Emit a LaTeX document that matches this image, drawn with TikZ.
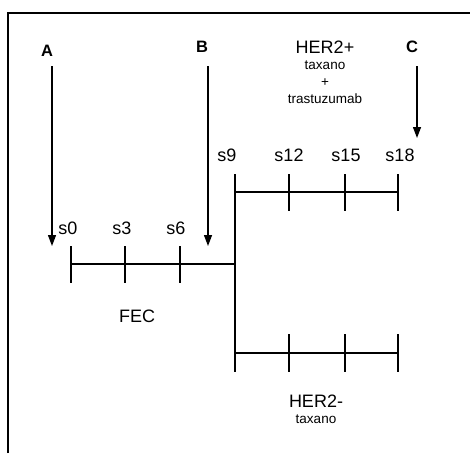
\documentclass[tikz,border=0pt]{standalone}
\usepackage{fontspec}
\setmainfont{Liberation Sans}
\usetikzlibrary{arrows.meta}
\begin{document}
\begin{tikzpicture}[x=1pt,y=-1pt,
 every node/.style={inner sep=0pt,font=\fontsize{18}{20}\selectfont},
 letter/.style={font=\fontsize{16.5}{18}\selectfont\bfseries},
 drug/.style={font=\fontsize{13.5}{15}\selectfont},
 arm/.style={line width=1.3pt},
 marker/.style={line width=1.3pt,-{Triangle[width=8pt,length=11pt]}}]
\useasboundingbox (0,0) rectangle (470,453);
\draw[line width=1.5pt] (8,453) -- (8,13) -- (470,13);
% time points A, B, C
\node[letter] (A) at (47,51) {A};
\node[letter] (B) at (202,47) {B};
\node[letter] (C) at (412,47) {C};
\coordinate (Atop) at (52,66); \coordinate (Aend) at (52,246);
\coordinate (Btop) at (208,66); \coordinate (Bend) at (208,246);
\coordinate (Ctop) at (417,66); \coordinate (Cend) at (417,138);
\draw[marker] (Atop) -- (Aend);
\draw[marker] (Btop) -- (Bend);
\draw[marker] (Ctop) -- (Cend);
% HER2+ arm
\node (pos) at (325,47) {HER2+};
\node[drug] (posdrug1) at (325,65) {taxano};
\node[drug] (posplus) at (325,83) {+};
\node[drug] (posdrug2) at (325,99) {trastuzumab};
% cycles
\node (s0) at (68,228) {s0};
\node (s3) at (122,228) {s3};
\node (s6) at (176,228) {s6};
\node (s9) at (227,155) {s9};
\node (s12) at (289,155) {s12};
\node (s15) at (346,155) {s15};
\node (s18) at (400,155) {s18};
\node (fec) at (137,316) {FEC};
\node (neg) at (316,401) {HER2-};
\node[drug] (negdrug) at (316,419) {taxano};
% time lines
\draw[arm] (71,264) -- (235,264);
\draw[arm] (235,174) -- (235,372);
\draw[arm] (235,192) -- (398,192);
\draw[arm] (235,353) -- (398,353);
\foreach \x in {71,125,180} \draw[arm] (\x,246) -- (\x,283);
\foreach \x in {289,345,398} {
 \draw[arm] (\x,174) -- (\x,211);
 \draw[arm] (\x,334) -- (\x,372);
}
\end{tikzpicture}
\end{document}
